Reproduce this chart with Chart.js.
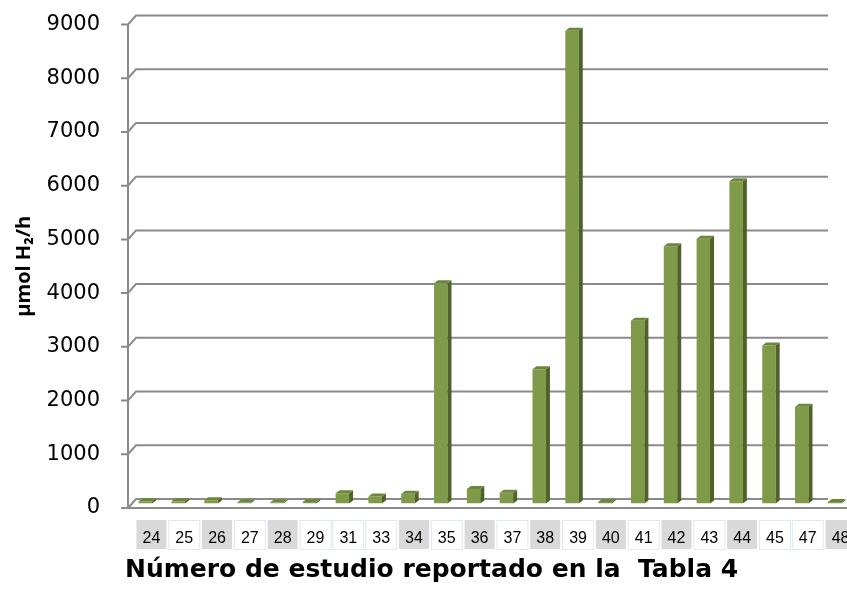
<!DOCTYPE html>
<html>
<head>
<meta charset="utf-8">
<title>Producción de H2</title>
<script src="https://cdn.jsdelivr.net/npm/chart.js@4"></script>
<style>
  html, body { margin: 0; padding: 0; background: #fff; overflow: hidden; }
  canvas { display: block; }
</style>
</head>
<body>
<canvas id="grafico" width="847" height="593"></canvas>
<script>
// estudios de la Tabla 4 y su producción (µmol H2/h)
const estudios = ['24', '25', '26', '27', '28', '29', '31', '33', '34', '35', '36',
                  '37', '38', '39', '40', '41', '42', '43', '44', '45', '47', '48'];
const produccion = [40, 40, 60, 20, 20, 30, 190, 130, 180, 4100, 270,
                    200, 2500, 8800, 30, 3400, 4790, 4930, 6000, 2940, 1800, 30];
const ticksY = [0, 1000, 2000, 3000, 4000, 5000, 6000, 7000, 8000, 9000];
// celdas de etiqueta con fondo gris
const celdasGrises = ['24', '26', '28', '34', '36', '38', '40', '42', '44', '48'];

const VERDE = '#7f9b4a';
const LADO = '#4f6228';
const TAPA = '#6b873b';
const GRIS = '#8a8a8a';

// desplazamiento de la pared del fondo y de las barras (efecto 3D)
const FONDO_X = 8, FONDO_Y = 9;
const BARRA_X = 4, BARRA_Y = 4.5;
const PROF_X = 4, PROF_Y = 3;
const DESFASE_ETIQ = 10;

const caja3d = {
  id: 'caja3d',
  beforeDraw(chart) {
    const { ctx, chartArea, scales } = chart;
    const y = scales.y, x = scales.x;
    const eje = chartArea.left + 3;

    // celdas detrás de las etiquetas del eje x
    ctx.save();
    estudios.forEach((e, i) => {
      const cx = x.getPixelForTick(i) + DESFASE_ETIQ;
      if (celdasGrises.includes(e)) {
        ctx.fillStyle = '#d9d9d9';
        ctx.fillRect(cx - 15, 520, 30, 29);
      } else {
        ctx.strokeStyle = '#dfe7f2';
        ctx.lineWidth = 1;
        ctx.strokeRect(cx - 15.5, 520.5, 31, 29);
      }
    });

    // líneas de división con su diagonal hacia el fondo
    ctx.strokeStyle = GRIS;
    ctx.lineWidth = 2;
    ticksY.forEach(v => {
      const py = y.getPixelForValue(v);
      ctx.beginPath();
      ctx.moveTo(eje - 7, py);
      ctx.lineTo(eje, py);
      ctx.lineTo(eje + FONDO_X, py - FONDO_Y);
      ctx.lineTo(828, py - FONDO_Y);
      ctx.stroke();
    });

    // eje vertical y borde frontal del piso
    const y0 = y.getPixelForValue(0);
    ctx.beginPath();
    ctx.moveTo(eje, y.getPixelForValue(ticksY[ticksY.length - 1]));
    ctx.lineTo(eje, y0);
    ctx.lineTo(chart.width, y0);
    ctx.stroke();
    ctx.restore();
  },
  beforeDatasetsDraw(chart) {
    chart.ctx.save();
    chart.ctx.translate(BARRA_X, -BARRA_Y);
  },
  afterDatasetsDraw(chart) {
    const ctx = chart.ctx;
    chart.getDatasetMeta(0).data.forEach(bar => {
      const { x, y, base, width } = bar.getProps(['x', 'y', 'base', 'width'], true);
      const l = x - width / 2, r = x + width / 2;
      // cara lateral
      ctx.fillStyle = LADO;
      ctx.beginPath();
      ctx.moveTo(r, y);
      ctx.lineTo(r + PROF_X, y - PROF_Y);
      ctx.lineTo(r + PROF_X, base - PROF_Y);
      ctx.lineTo(r, base);
      ctx.closePath();
      ctx.fill();
      // cara superior
      ctx.fillStyle = TAPA;
      ctx.beginPath();
      ctx.moveTo(l, y);
      ctx.lineTo(l + PROF_X, y - PROF_Y);
      ctx.lineTo(r + PROF_X, y - PROF_Y);
      ctx.lineTo(r, y);
      ctx.closePath();
      ctx.fill();
    });
    ctx.restore();
  }
};

new Chart(document.getElementById('grafico'), {
  type: 'bar',
  data: {
    labels: estudios,
    datasets: [{
      data: produccion,
      backgroundColor: VERDE,
      borderWidth: 0,
      categoryPercentage: 1,
      barPercentage: 0.41
    }]
  },
  options: {
    responsive: false,
    animation: false,
    layout: { padding: { top: 24.5, right: 0, bottom: 0, left: 0 } },
    plugins: { legend: { display: false }, tooltip: { enabled: false } },
    scales: {
      x: {
        afterFit(scale) {
          scale.height = 85;
          scale.paddingLeft = 0;
          scale.paddingRight = 0;
        },
        grid: { display: false, drawTicks: false },
        border: { display: false },
        ticks: {
          color: '#000',
          font: { family: 'Liberation Sans', size: 16 },
          padding: 21,
          labelOffset: DESFASE_ETIQ,
          autoSkip: false,
          maxRotation: 0
        },
        title: {
          display: true,
          text: 'Número de estudio reportado en la  Tabla 4',
          align: 'start',
          color: '#000',
          font: { family: 'DejaVu Sans', size: 25, weight: 'bold' },
          padding: { top: 0, bottom: 8 }
        }
      },
      y: {
        min: ticksY[0],
        max: ticksY[ticksY.length - 1],
        afterFit(scale) {
          scale.width = 125;
          // el margen de las etiquetas no debe empujar el área del gráfico
          scale.paddingTop = 0;
          scale.paddingBottom = 0;
        },
        afterBuildTicks(scale) { scale.ticks = ticksY.map(v => ({ value: v })); },
        grid: { display: false, drawTicks: false },
        border: { display: false },
        ticks: {
          color: '#000',
          font: { family: 'DejaVu Sans', size: 21 },
          padding: 25,
          callback: v => String(v)
        },
        title: {
          display: true,
          text: 'µmol H₂/h',
          color: '#000',
          font: { family: 'Open Sans', size: 20, weight: 'bold' },
          padding: { top: 12, bottom: 0 }
        }
      }
    }
  },
  plugins: [caja3d]
});
</script>
</body>
</html>
